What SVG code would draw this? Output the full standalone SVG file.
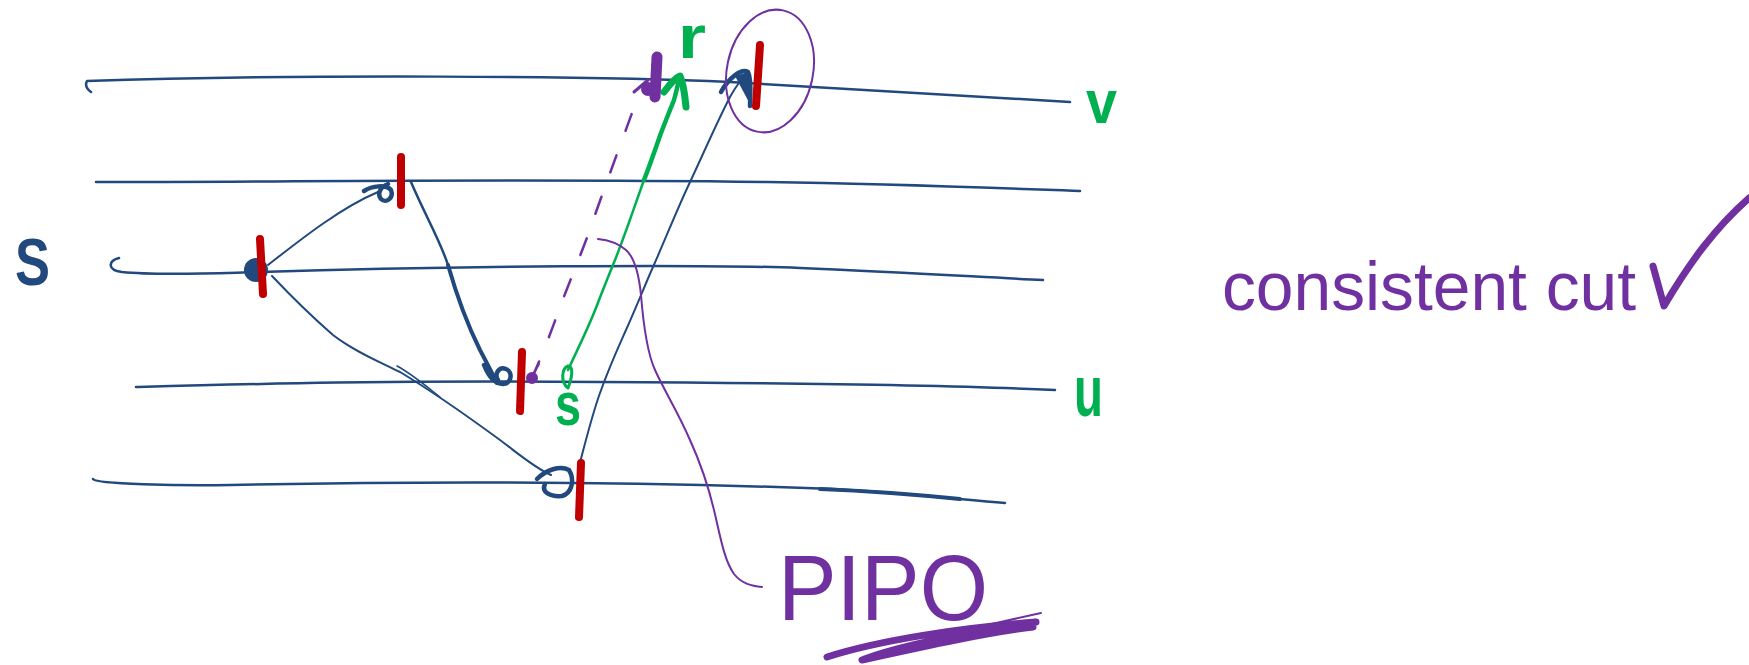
<svg xmlns="http://www.w3.org/2000/svg" width="1749" height="665" viewBox="0 0 1749 665">
<style>
.ln{fill:none;stroke:#21497e;stroke-width:2.5;stroke-linecap:round;stroke-linejoin:round}
.ar{fill:none;stroke:#21497e;stroke-width:2;stroke-linecap:round;stroke-linejoin:round}
.ah{fill:none;stroke:#21497e;stroke-width:4.5;stroke-linecap:round;stroke-linejoin:round}
.tick{stroke:#c00000;stroke-width:8;stroke-linecap:round}
.pu{fill:none;stroke:#7030a0;stroke-linecap:round;stroke-linejoin:round}
.gr{fill:none;stroke:#00b050;stroke-linecap:round;stroke-linejoin:round}
.lbl{font-family:"Liberation Sans",Arial,sans-serif;font-weight:bold}
</style>
<rect width="1749" height="665" fill="#ffffff"/>
<g id="process-lines">
<path class="ln" d="M91,92 Q84,87 87,81 C300,74 600,76 730,82 C850,88 960,95 1070,102"/>
<path class="ln" d="M96,182 C300,182 500,178 768,182 C900,184 1000,188 1080,191"/>
<path class="ln" d="M119,258 C108,261 107,270 122,272 C160,276 220,273 260,272 C450,266 700,264 800,268 C900,272 980,277 1043,280"/>
<path class="ln" d="M136,387 C250,384 400,380 600,382 C800,383 950,385 1055,390"/>
<path class="ln" d="M93,479 C95,484 180,486 230,485 C380,482 600,481 806,488 C880,490 940,498 1005,503"/>
<path class="ln" style="stroke-width:4" d="M820,489 C870,491 910,494 960,499"/>
</g>
<g id="labels">
<text class="lbl" x="15" y="285" font-size="66" fill="#21497e" textLength="35" lengthAdjust="spacingAndGlyphs">S</text>
<text class="lbl" x="1086" y="123" font-size="62" fill="#00b050" textLength="31" lengthAdjust="spacingAndGlyphs">v</text>
<text class="lbl" x="1074" y="416" font-size="72" fill="#00b050" textLength="29" lengthAdjust="spacingAndGlyphs">u</text>
</g>
<g id="connectors">
<path class="ar" d="M268,265 C300,240 340,208 378,192"/>
<path class="ah" d="M364,191 C372,186 386,184 391,190 C394,198 386,204 381,199 C377,194 380,187 388,184"/>
<path class="ar" style="stroke-width:2.5" d="M411,182 C425,215 440,240 448,265"/>
<path class="ar" style="stroke-width:4" d="M448,265 C458,300 470,330 480,350 C488,365 493,375 497,383"/>
<path class="ah" d="M484,365 C488,375 494,384 503,384 C512,383 513,372 506,369 C499,366 494,374 498,380"/>
<path class="ar" d="M272,276 C290,295 310,315 333,335 C355,352 380,362 400,372 C430,390 470,418 500,440 C520,455 535,468 551,475"/>
<path class="ar" style="stroke-width:1.5" d="M397,366 C412,374 426,386 440,397"/>
<path class="ah" d="M537,479 C546,470 560,465 569,470 C575,480 572,493 562,496 C550,497 541,492 545,484"/>
<path class="ar" d="M578,470 C586,440 592,415 600,393 C610,365 618,348 626,330 C638,303 645,285 653,267 C668,233 678,207 691,180 C705,150 718,120 730,97 C735,88 740,80 745,77"/>
<path class="ah" d="M721,92 C728,79 741,68 748,72 C752,80 750,95 750,106"/>
<path fill="#21497e" d="M735,76 L748,72 L751,106 Z"/>
<path class="gr" style="stroke-width:2.5" d="M568,370 C578,348 590,325 599,300 C605,285 610,272 615,260 C625,235 635,205 644,180"/>
<path class="gr" style="stroke-width:4.5" d="M644,180 C650,165 655,150 661,133 C666,120 670,110 674,100 C676,93 677,88 678,84"/>
<path class="gr" style="stroke-width:3" d="M568,388 C560,382 562,368 568,366 C574,366 572,378 568,388"/>
<path class="gr" style="stroke-width:7" d="M664,92 C670,84 675,78 680,76 C684,85 685,97 686,107"/>
<path class="pu" style="stroke-width:2.5" stroke-dasharray="18 26" d="M532,378 C542,355 550,335 556,318 C566,290 578,262 588,235 C600,200 612,168 622,140 C628,125 632,112 637,100"/>
<path class="pu" style="stroke-width:2" d="M598,239 C608,240 619,244 626,250 C635,258 639,275 641,295 C643,320 646,350 655,370 C665,392 678,412 690,440 C700,462 708,485 714,510 C720,535 724,560 734,574 C742,584 752,586 762,587"/>
</g>
<g id="events">
<line class="tick" x1="401" y1="157" x2="401" y2="205"/>
<circle cx="256" cy="270" r="12" fill="#21497e"/>
<line class="tick" x1="260" y1="239" x2="263" y2="294"/>
<line class="tick" x1="522" y1="352" x2="520" y2="411"/>
<line class="tick" x1="581" y1="463" x2="579" y2="517"/>
<line class="tick" x1="760" y1="45" x2="756" y2="106"/>
<circle cx="532" cy="378" r="6" fill="#7030a0"/>
<path class="pu" style="stroke-width:2" d="M534,373 L539,364"/>
<path class="pu" style="stroke-width:11" d="M657,57 L655,97"/>
<circle cx="648" cy="89" r="7" fill="#7030a0"/>
<path class="pu" style="stroke-width:3" d="M634,92 L648,80"/>
</g>
<g id="message-labels">
<text class="lbl" x="555" y="425" font-size="62" fill="#00b050" textLength="26" lengthAdjust="spacingAndGlyphs">s</text>
<text class="lbl" x="678" y="58" font-size="62" fill="#00b050" textLength="28" lengthAdjust="spacingAndGlyphs">r</text>
</g>
<g id="pipo">
<ellipse cx="770" cy="71" rx="43" ry="62" transform="rotate(12 770 71)" class="pu" style="stroke-width:2"/>
<text x="778" y="620" font-family="'Liberation Sans',Arial,sans-serif" font-size="92" fill="#7030a0" textLength="210" lengthAdjust="spacingAndGlyphs">PIPO</text>
<path class="pu" style="stroke-width:7" d="M827,657 C880,640 960,628 1036,622 C980,630 900,645 862,660 C930,645 990,632 1033,627"/>
<path class="pu" style="stroke-width:2" d="M965,630 L1041,613"/>
</g>
<g id="note">
<text x="1222" y="310" font-family="'Liberation Sans',Arial,sans-serif" font-size="68" fill="#7030a0" textLength="414" lengthAdjust="spacingAndGlyphs">consistent cut</text>
<path class="pu" style="stroke-width:7" d="M1653,266 L1664,306 C1690,262 1715,228 1749,198"/>
</g>
</svg>
